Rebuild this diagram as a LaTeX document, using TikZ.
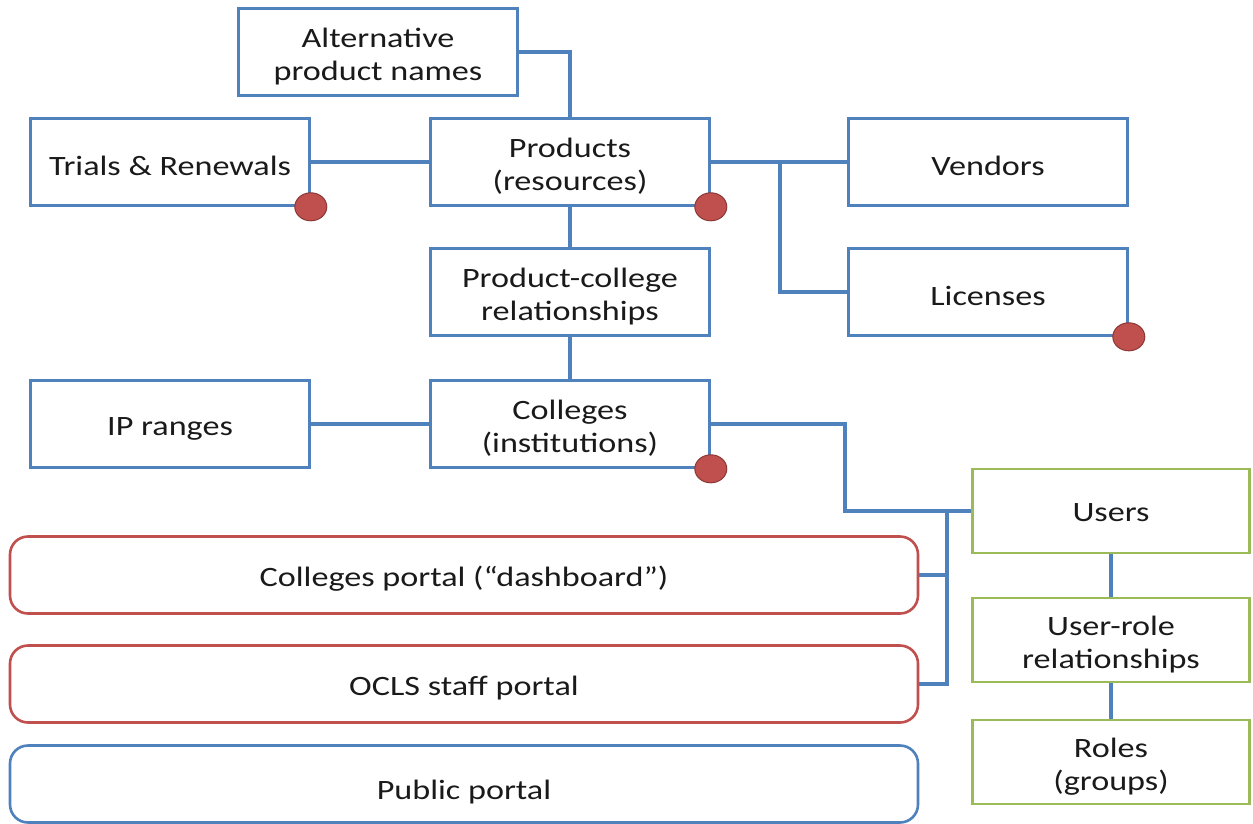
\documentclass[tikz,border=0pt]{standalone}
\usepackage{fontspec}
\setmainfont{Carlito}[FakeStretch=1.22]
\usetikzlibrary{shapes.geometric}
\definecolor{bblue}{HTML}{4F81BD}
\definecolor{rred}{HTML}{C0504D}
\definecolor{ggreen}{HTML}{9BBB59}
\definecolor{dotedge}{HTML}{8C3836}
\definecolor{txt}{HTML}{1A1A1A}
\newcommand\nstrut{\rule[-2pt]{0pt}{30pt}}
\newcommand\ustrut{\rule[-4pt]{0pt}{28pt}}
\newcommand\pstrut{\rule{0pt}{36pt}}
\tikzset{
  box/.style={draw=bblue, line width=2.6pt, fill=white, minimum width=279pt, minimum height=87pt, inner sep=0pt, align=center, text=txt, font=\fontsize{28}{33}\selectfont},
  gbox/.style={box, draw=ggreen, minimum width=277pt, minimum height=84pt},
  portal/.style={box, rounded corners=18pt, minimum width=908pt, minimum height=77pt},
  conn/.style={draw=bblue, line width=3.2pt},
  dotnode/.style={ellipse, draw=dotedge, line width=1pt, fill=rred, minimum width=32pt, minimum height=28pt, inner sep=0pt},
}
\begin{document}
\begin{tikzpicture}[x=1pt,y=-1pt]
\useasboundingbox (0,0) rectangle (1253,823);
\node[box] (alt) at (378,52) {\nstrut Alternative\\\nstrut product names};
\node[box] (tr) at (170,162) {\nstrut Trials \& Renewals};
\node[box] (prod) at (570,162) {\nstrut Products\\\nstrut (resources)};
\node[box] (ven) at (988,162) {\nstrut Vendors};
\node[box] (lic) at (988,292) {\nstrut Licenses};
\node[box] (pc) at (570,292) {\nstrut Product-college\\\nstrut relationships};
\node[box] (ip) at (170,424) {\nstrut IP ranges};
\node[box] (col) at (570,424) {\nstrut Colleges\\\nstrut (institutions)};
\node[gbox] (users) at (1111,511) {\ustrut Users};
\node[gbox] (ur) at (1111,640) {\nstrut User-role\\\nstrut relationships};
\node[gbox] (roles) at (1111,762) {\nstrut Roles\\\nstrut (groups)};
\node[portal, draw=rred] (cp) at (464,575) {\nstrut Colleges portal (“dashboard”)};
\node[portal, draw=rred] (op) at (464,684) {\nstrut OCLS staff portal};
\node[portal] (pp) at (464,784) {\pstrut Public portal};
\coordinate (j1) at (780,162);
\coordinate (j2) at (845,511);
\coordinate (j3) at (947,511);
\draw[conn] (alt.east) -| (prod.north);
\draw[conn] (tr.east) -- (prod.west);
\draw[conn] (prod.east) -- (ven.west);
\draw[conn] (j1) |- (lic.west);
\draw[conn] (prod.south) -- (pc.north);
\draw[conn] (pc.south) -- (col.north);
\draw[conn] (ip.east) -- (col.west);
\draw[conn] (col.east) -| (j2) -- (users.west);
\draw[conn] (cp.east) -| (j3);
\draw[conn] (op.east) -| (j3);
\draw[conn] (users.south) -- (ur.north);
\draw[conn] (ur.south) -- (roles.north);
\node[dotnode] (d1) at (tr.south east) {};
\node[dotnode] (d2) at (prod.south east) {};
\node[dotnode] (d3) at (lic.south east) {};
\node[dotnode] (d4) at (col.south east) {};
\end{tikzpicture}
\end{document}
